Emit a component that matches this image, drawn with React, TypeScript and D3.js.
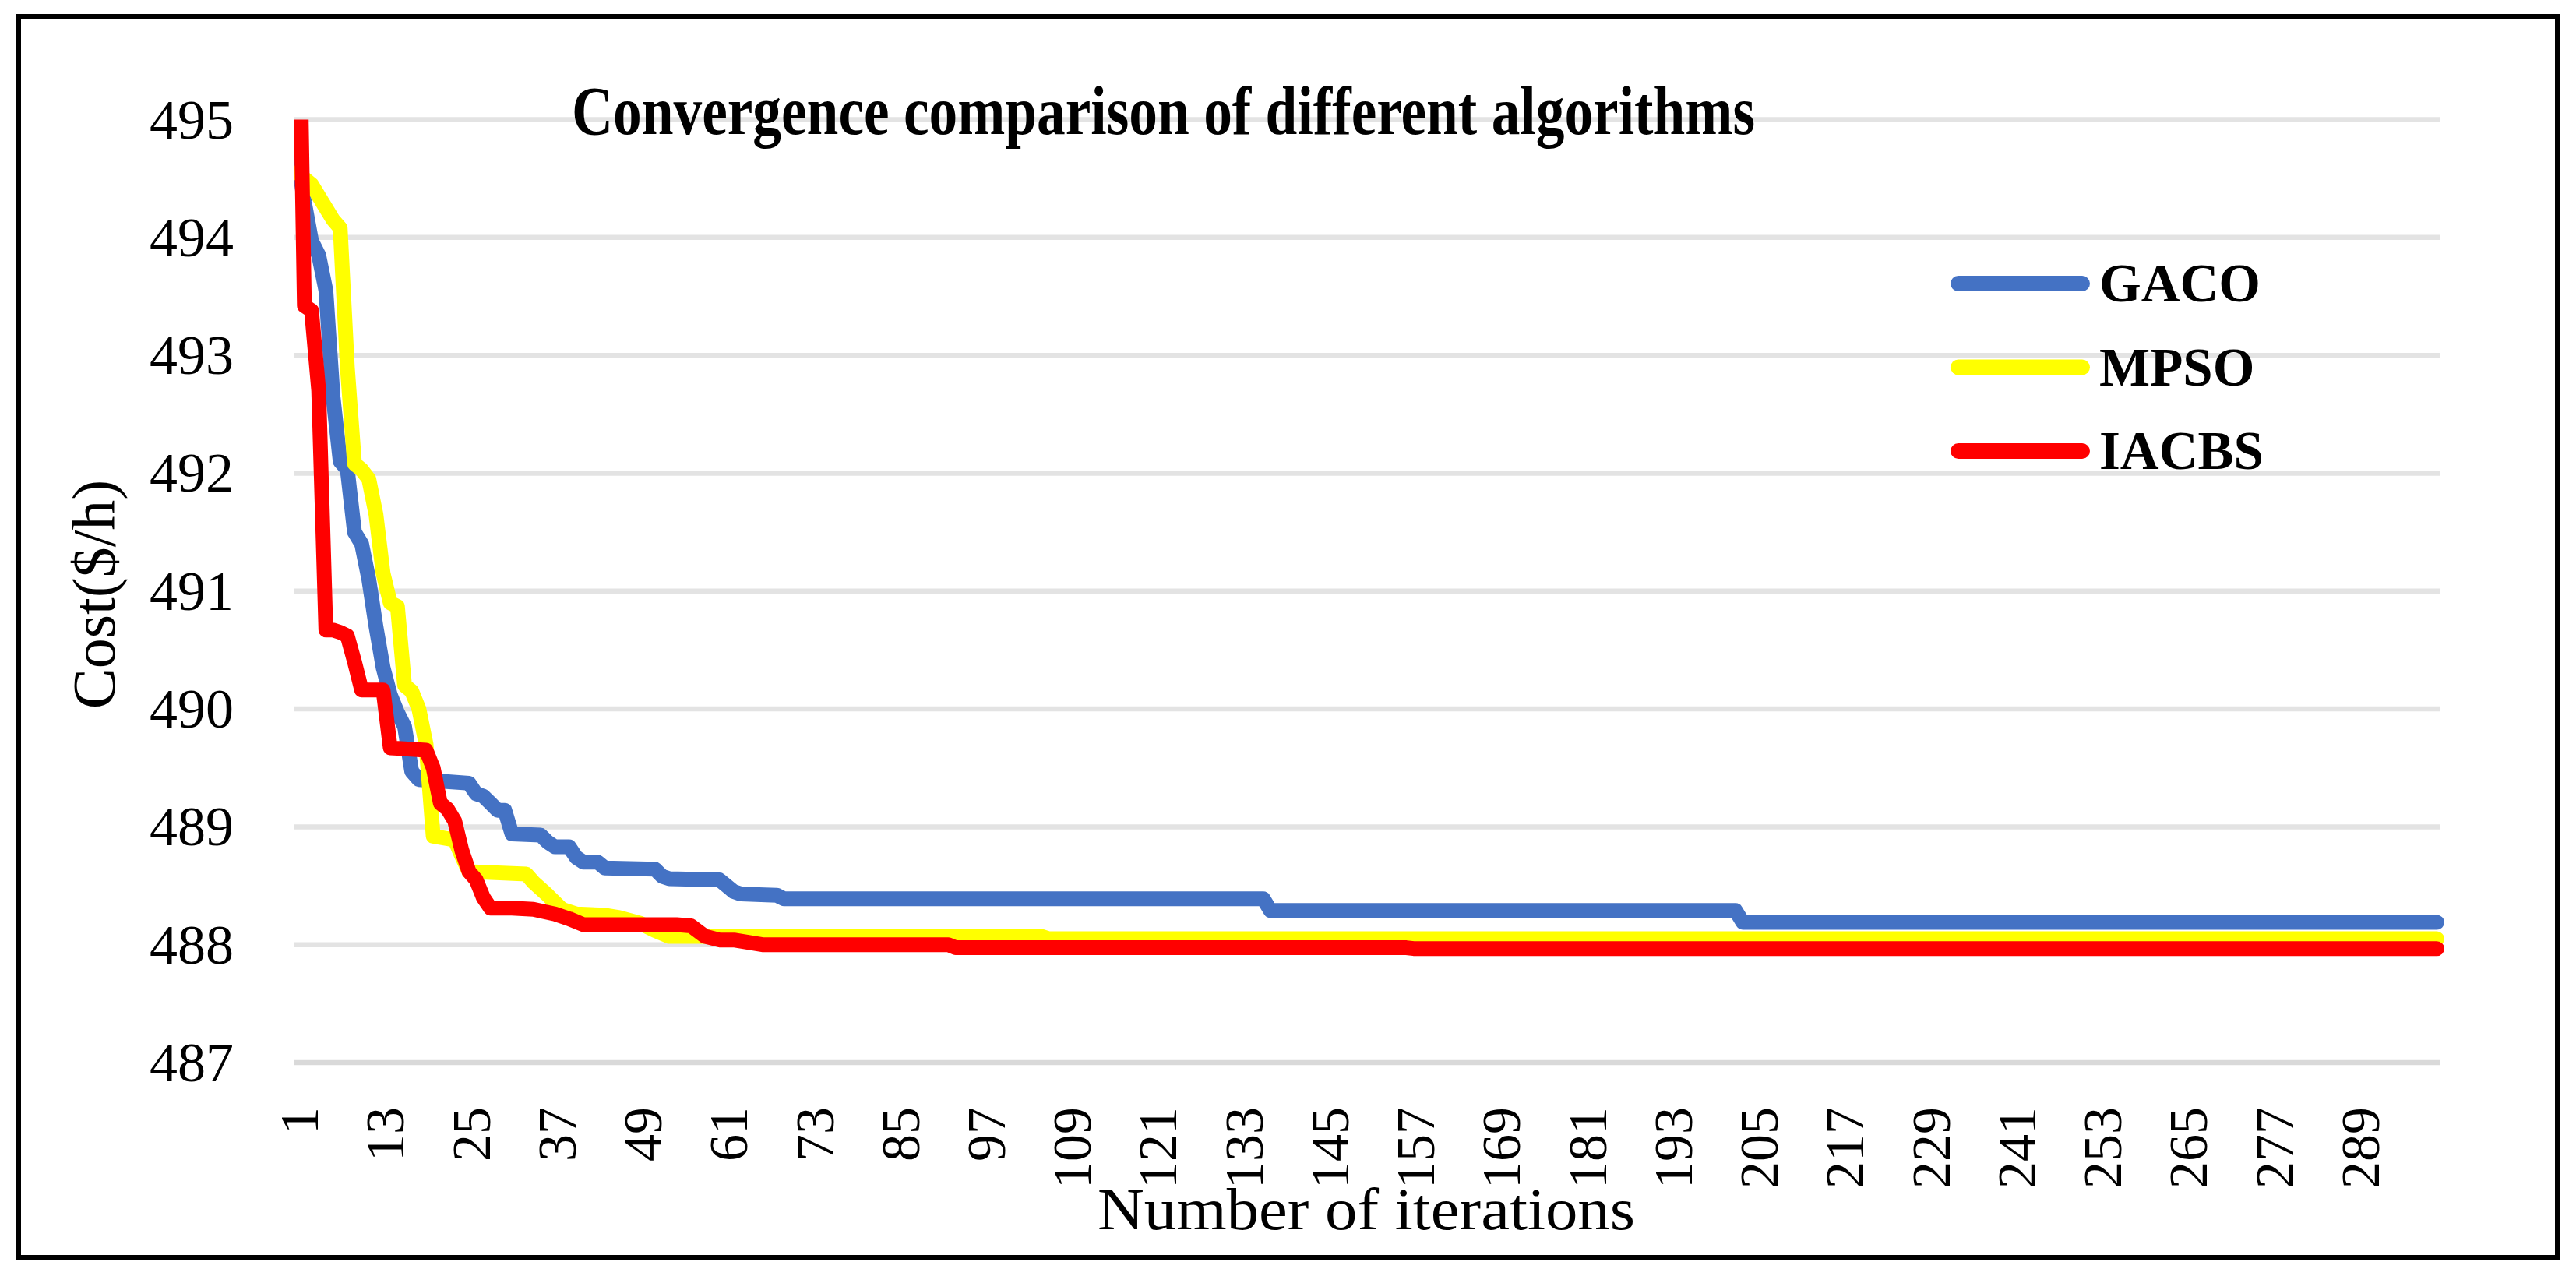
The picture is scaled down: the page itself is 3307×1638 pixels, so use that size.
import React from 'react'
import * as d3 from 'd3'

// vertices: [iteration, cost]
const gacoPoints: Array<[number, number]> = [
  [1, 494.7], [2, 494.3], [3, 493.97], [4, 493.85], [5, 493.55], [6, 492.65], [7, 492.1],
  [8, 492.03], [9, 491.5], [10, 491.4], [11, 491.1], [12, 490.7], [13, 490.35], [14, 490.12],
  [15, 489.97], [16, 489.85], [17, 489.47], [18, 489.4], [25, 489.37], [26, 489.28], [27, 489.26],
  [28, 489.2], [29, 489.14], [30, 489.14], [31, 488.94], [35, 488.93], [36, 488.87], [37, 488.83],
  [39, 488.83], [40, 488.74], [41, 488.7], [43, 488.7], [44, 488.65], [51, 488.64], [52, 488.58],
  [53, 488.56], [60, 488.55], [61, 488.5], [62, 488.45], [63, 488.43], [68, 488.42], [69, 488.39],
  [136, 488.39], [137, 488.29], [202, 488.29], [203, 488.19], [300, 488.19],
]

const mpsoPoints: Array<[number, number]> = [
  [1, 494.55], [3, 494.45], [5, 494.25], [6, 494.15], [7, 494.08], [8, 492.9], [9, 492.08],
  [10, 492.03], [11, 491.95], [12, 491.65], [13, 491.15], [14, 490.9], [15, 490.87], [16, 490.2],
  [17, 490.15], [18, 490.0], [19, 489.7], [20, 488.92], [23, 488.89], [24, 488.75], [25, 488.62],
  [33, 488.6], [34, 488.53], [36, 488.42], [38, 488.3], [40, 488.26], [44, 488.25], [46, 488.23],
  [49, 488.18], [51, 488.12], [53, 488.07], [105, 488.07], [106, 488.05], [300, 488.05],
]

const iacbsPoints: Array<[number, number]> = [
  [1, 497], [2, 493.42], [3, 493.38], [4, 492.7], [5, 490.67], [6, 490.67], [7, 490.65],
  [8, 490.62], [9, 490.4], [10, 490.16], [13, 490.16], [14, 489.67], [19, 489.65], [20, 489.5],
  [21, 489.2], [22, 489.15], [23, 489.05], [24, 488.8], [25, 488.62], [26, 488.55], [27, 488.4],
  [28, 488.31], [31, 488.31], [34, 488.3], [37, 488.26], [39, 488.22], [41, 488.17], [54, 488.17],
  [56, 488.16], [58, 488.07], [60, 488.04], [62, 488.04], [64, 488.02], [66, 488.0], [92, 488.0],
  [93, 487.975], [156, 487.974], [157, 487.967], [300, 487.967],
]

const seriesNames = ['GACO', 'MPSO', 'IACBS']
const seriesColors = ['#4472C4', '#FFFF00', '#FF0000']
const seriesData = [gacoPoints, mpsoPoints, iacbsPoints]

const yTicks = [487, 488, 489, 490, 491, 492, 493, 494, 495]
const xTickLabels = [1, 13, 25, 37, 49, 61, 73, 85, 97, 109, 121, 133, 145, 157, 169, 181, 193, 205, 217, 229, 241, 253, 265, 277, 289]
const iterationCount = 300

const W = 3307
const H = 1638
const plot = { left: 377, right: 3133, top: 153.5, bottom: 1364 }
const font = '"Liberation Serif", "Times New Roman", serif'

const App: React.FC = () => {
  const x = d3.scaleLinear().domain([0.5, iterationCount + 0.5]).range([plot.left, plot.right])
  const y = d3.scaleLinear().domain([487, 495]).range([plot.bottom, plot.top])
  const line = d3
    .line<[number, number]>()
    .x((d) => x(d[0]))
    .y((d) => y(d[1]))

  return (
    <svg
      width={W}
      height={H}
      style={{ position: 'absolute', left: 0, top: 0, display: 'block', background: '#fff' }}
    >
      <defs>
        <clipPath id="plot-clip">
          <rect x={plot.left} y={plot.top} width={plot.right - plot.left + 4} height={plot.bottom - plot.top} />
        </clipPath>
      </defs>
      <rect x={0} y={0} width={W} height={H} fill="#fff" />
      <rect x={24} y={21} width={3259} height={1593} fill="none" stroke="#000" strokeWidth={6} />

      {/* gridlines */}
      {yTicks.map((t) => (
        <line
          key={`g${t}`}
          x1={plot.left}
          x2={plot.right}
          y1={y(t)}
          y2={y(t)}
          stroke={t === 487 ? '#d9d9d9' : '#e3e3e3'}
          strokeWidth={6.5}
        />
      ))}

      {/* y tick labels */}
      {yTicks.map((t) => (
        <text
          key={`yl${t}`}
          x={300}
          y={y(t)}
          textAnchor="end"
          dominantBaseline="central"
          fontFamily={font}
          fontSize={72}
          fill="#000"
        >
          {t}
        </text>
      ))}

      {/* x tick labels */}
      {xTickLabels.map((t) => (
        <text
          key={`xl${t}`}
          transform={`translate(${x(t) + 3},1421) rotate(-90)`}
          textAnchor="end"
          dominantBaseline="central"
          fontFamily={font}
          fontSize={70}
          fill="#000"
        >
          {t}
        </text>
      ))}

      {/* series */}
      <g clipPath="url(#plot-clip)">
        {seriesData.map((pts, i) => (
          <path
            key={seriesNames[i]}
            d={line(pts) as string}
            fill="none"
            stroke={seriesColors[i]}
            strokeWidth={19}
            strokeLinejoin="round"
            strokeLinecap="round"
          />
        ))}
      </g>

      {/* title */}
      <text
        x={734}
        y={172}
        fontFamily={font}
        fontWeight="bold"
        fontSize={88}
        textLength={1519}
        lengthAdjust="spacingAndGlyphs"
        fill="#000"
      >
        Convergence comparison of different algorithms
      </text>

      {/* axis titles */}
      <text
        x={1409}
        y={1578}
        fontFamily={font}
        fontSize={76}
        textLength={690}
        lengthAdjust="spacingAndGlyphs"
        fill="#000"
      >
        Number of iterations
      </text>
      <text
        transform="translate(147,763) rotate(-90)"
        textAnchor="middle"
        fontFamily={font}
        fontSize={78}
        fill="#000"
      >
        Cost($/h)
      </text>

      {/* legend */}
      {seriesNames.map((name, i) => {
        const ly = 364 + i * 107.5
        return (
          <g key={`lg${name}`}>
            <line
              x1={2514}
              x2={2673}
              y1={ly}
              y2={ly}
              stroke={seriesColors[i]}
              strokeWidth={20}
              strokeLinecap="round"
            />
            <text
              x={2695}
              y={ly}
              dominantBaseline="central"
              fontFamily={font}
              fontWeight="bold"
              fontSize={69}
              fill="#000"
            >
              {name}
            </text>
          </g>
        )
      })}
    </svg>
  )
}

export default App
